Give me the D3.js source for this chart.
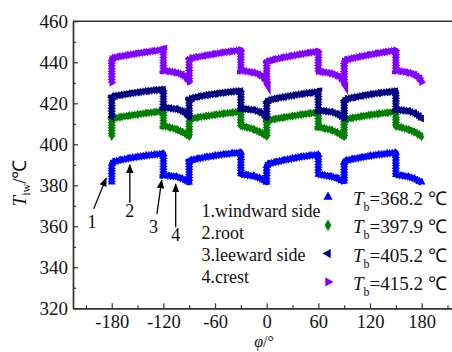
<!DOCTYPE html>
<html><head><meta charset="utf-8">
<script src="https://cdn.jsdelivr.net/npm/d3@7"></script>
<style>
body{margin:0;background:#fff}
svg{display:block}
text{font-family:"Liberation Serif","Times New Roman",serif;fill:#111}
</style>
</head><body><svg id="c" width="452" height="352" font-family="'Liberation Serif',serif"></svg>
<script>
// angle samples (degrees); repeated angles are the vertical jumps
const phi = [
 -180,-180,-177,-170,-160,-150,-140,-130,-120,-120,-113,-105,-98,-93,
 -90,-90,-87,-80,-70,-60,-50,-40,-30,-30,-23,-15,-8,-3,
 0,0,3,10,20,30,40,50,60,60,67,75,82,87,
 90,90,93,100,110,120,130,140,150,150,157,165,172,177,
 180];
const tb368 = [
 381.5,390.5,391.5,392.3,393.2,393.9,394.5,395.0,395.4,385.0,384.6,384.2,383.3,382.2,
 381.5,391.5,392.3,393.0,393.8,394.5,395.1,395.6,396.0,385.5,385.0,384.5,383.5,382.5,
 381.5,389.5,390.5,391.3,392.3,393.1,393.9,394.5,395.0,385.3,384.8,384.3,383.4,382.3,
 382.0,391.2,392.1,392.8,393.6,394.4,395.0,395.5,395.9,385.2,384.7,384.2,383.2,382.0,
 381.5];
const tb397 = [
 403.8,412.0,412.8,413.3,414.0,414.6,415.2,415.7,416.1,409.0,408.3,407.3,406.0,404.8,
 403.8,411.8,412.5,413.1,413.8,414.4,415.0,415.5,416.0,409.0,408.3,407.3,406.0,404.8,
 403.8,411.0,411.8,412.4,413.1,413.8,414.5,415.1,415.6,408.5,407.8,407.0,405.8,404.6,
 403.6,411.5,412.3,412.9,413.6,414.3,414.9,415.4,415.9,408.8,408.1,407.2,406.0,404.8,
 403.6];
const tb405 = [
 413.3,422.8,423.5,424.0,424.7,425.3,425.9,426.4,426.8,418.0,417.6,417.2,416.2,414.8,
 413.3,421.8,422.5,423.2,424.0,424.6,425.2,425.7,426.1,417.5,417.1,416.7,415.8,414.5,
 413.0,420.8,421.6,422.3,423.1,423.8,424.5,425.1,425.6,416.5,416.2,415.8,414.8,413.5,
 412.8,421.3,422.1,422.8,423.6,424.3,425.0,425.5,426.0,417.0,416.6,416.2,415.2,413.8,
 412.5];
const tb415 = [
 430.0,441.5,442.3,442.9,443.6,444.3,445.0,445.6,446.2,436.0,435.6,435.0,434.0,432.5,
 430.5,441.2,442.0,442.6,443.4,444.1,444.8,445.4,446.0,436.0,435.6,435.0,434.0,432.5,
 430.5,439.8,440.7,441.5,442.4,443.2,444.0,444.7,445.3,435.5,435.2,434.6,433.6,432.2,
 430.3,440.5,441.3,442.0,442.9,443.7,444.5,445.2,445.8,436.0,435.6,435.0,434.0,432.5,
 430.3];
const seriesValues = [tb368, tb397, tb405, tb415];
const seriesLabels = ["368.2","397.9","405.2","415.2"];
const seriesColors = ["#0000FF","#008000","#000080","#8000FF"];
const seriesShapes = ["up","diamond","left","right"];
const xTicks = [-180,-120,-60,0,60,120,180];
const xMinor = [-210,-150,-90,-30,30,90,150,210];
const yTicks = [320,340,360,380,400,420,440,460];
const yMinor = [330,350,370,390,410,430,450];
const notes = ["1.windward side","2.root","3.leeward side","4.crest"];
// annotation arrows (data coords): label, text pos, tail, tip
const arrows = [
 {t:"1", txt:[-203,365], tail:[-201,368.5], tip:[-186.5,383.5]},
 {t:"2", txt:[-159,370.5], tail:[-159,371.5], tip:[-159,390]},
 {t:"3", txt:[-131.5,362.8], tail:[-127.5,366], tip:[-122,382.5]},
 {t:"4", txt:[-105.7,358.5], tail:[-105.7,359.5], tip:[-105.7,380.5]}
];

const svg = d3.select("#c");
const x = d3.scaleLinear().domain([-225,225]).range([73,460.4]);
const y = d3.scaleLinear().domain([320,460]).range([308.3,21.3]);
const axCol = "#333";
const serif = "'Liberation Serif','Times New Roman',serif";

// series
const line = d3.line().x(d=>x(d[0])).y(d=>y(d[1]));
const symType = {up:d3.symbolTriangle, diamond:d3.symbolDiamond, left:d3.symbolTriangle, right:d3.symbolTriangle};
const symRot = {up:0, diamond:0, left:-90, right:90};
seriesValues.forEach((vals,i)=>{
  const pts = phi.map((p,k)=>[p, vals[k]]);
  const g = svg.append("g");
  g.append("path").attr("d", line(pts)).attr("fill","none")
    .attr("stroke", seriesColors[i]).attr("stroke-width",5.8).attr("stroke-linejoin","round");
  g.append("path").attr("d", line(pts)).attr("fill","none")
    .attr("stroke", seriesColors[i]).attr("stroke-width",7.8).attr("stroke-dasharray","1.1 1.6");
  g.selectAll("path.m").data(pts).join("path").attr("class","m")
    .attr("d", d3.symbol().type(symType[seriesShapes[i]]).size(seriesShapes[i]==="diamond"?22:26))
    .attr("transform", d=>`translate(${x(d[0])},${y(d[1])}) rotate(${symRot[seriesShapes[i]]})`)
    .attr("fill", seriesColors[i]);
});

// frame / axes
const fmt = d => String(d);
const yAxis = svg.append("g").attr("transform",`translate(${x(-225)},0)`)
  .call(d3.axisLeft(y).tickValues(yTicks).tickSizeInner(-5).tickSizeOuter(0).tickPadding(5).tickFormat(fmt));
const yAxisM = svg.append("g").attr("transform",`translate(${x(-225)},0)`)
  .call(d3.axisLeft(y).tickValues(yMinor).tickSizeInner(-3).tickSizeOuter(0).tickFormat(""));
const xAxis = svg.append("g").attr("transform",`translate(0,${y(320)})`)
  .call(d3.axisBottom(x).tickValues(xTicks).tickSizeInner(-5).tickSizeOuter(0).tickPadding(6).tickFormat(fmt));
const xAxisM = svg.append("g").attr("transform",`translate(0,${y(320)})`)
  .call(d3.axisBottom(x).tickValues(xMinor).tickSizeInner(-3).tickSizeOuter(0).tickFormat(""));
[yAxis,yAxisM,xAxis,xAxisM].forEach(a=>{
  a.attr("font-family", serif);
  a.select(".domain").attr("stroke",axCol).attr("stroke-width",1.4);
  a.selectAll(".tick line").attr("stroke",axCol).attr("stroke-width",1.2);
  a.selectAll("text").attr("font-size",19).attr("fill","#111");
});
xAxis.selectAll(".tick text").attr("dy","0.72em").attr("font-size",18.5);
svg.append("line").attr("x1",x(-225)).attr("x2",452).attr("y1",y(460)).attr("y2",y(460))
  .attr("stroke",axCol).attr("stroke-width",1.4);

// axis titles
const yl = svg.append("text").attr("transform",`translate(26,183) rotate(-90)`)
  .attr("text-anchor","middle").attr("font-size",19);
yl.append("tspan").attr("font-style","italic").text("T");
yl.append("tspan").attr("font-size",12).attr("dy",4).text("iw");
yl.append("tspan").attr("dy",-4).text("/℃");
const xl = svg.append("text").attr("x",264).attr("y",347).attr("text-anchor","middle").attr("font-size",16);
xl.append("tspan").attr("font-style","italic").text("φ");
xl.append("tspan").text("/°");

// arrows
const defs = svg.append("defs");
defs.append("marker").attr("id","ah").attr("viewBox","0 0 10 10").attr("refX",9).attr("refY",5)
  .attr("markerWidth",7).attr("markerHeight",7).attr("orient","auto")
  .append("path").attr("d","M0,1 L10,5 L0,9 Z").attr("fill","#000");
arrows.forEach(a=>{
  svg.append("line").attr("x1",x(a.tail[0])).attr("y1",y(a.tail[1]))
    .attr("x2",x(a.tip[0])).attr("y2",y(a.tip[1]))
    .attr("stroke","#000").attr("stroke-width",1.3).attr("marker-end","url(#ah)");
  svg.append("text").attr("x",x(a.txt[0])).attr("y",y(a.txt[1])+12)
    .attr("text-anchor","middle").attr("font-size",18).text(a.t);
});

// notes
notes.forEach((n,i)=>{
  svg.append("text").attr("x",201.5).attr("y",217+i*22.1).attr("font-size",18).text(n);
});

// legend
seriesLabels.forEach((lab,i)=>{
  const by = 205 + i*28.3;
  const s = seriesShapes[i];
  svg.append("path").attr("d", d3.symbol().type(symType[s]).size(s==="diamond"?40:38))
    .attr("transform",`translate(328,${by-8}) rotate(${symRot[s]})`).attr("fill",seriesColors[i]);
  const t = svg.append("text").attr("x",353).attr("y",by).attr("font-size",19);
  t.append("tspan").attr("font-style","italic").text("T");
  t.append("tspan").attr("font-size",12).attr("dy",6).text("b");
  t.append("tspan").attr("dy",-6).text("=" + lab + " ℃");
});
</script>
</body></html>
